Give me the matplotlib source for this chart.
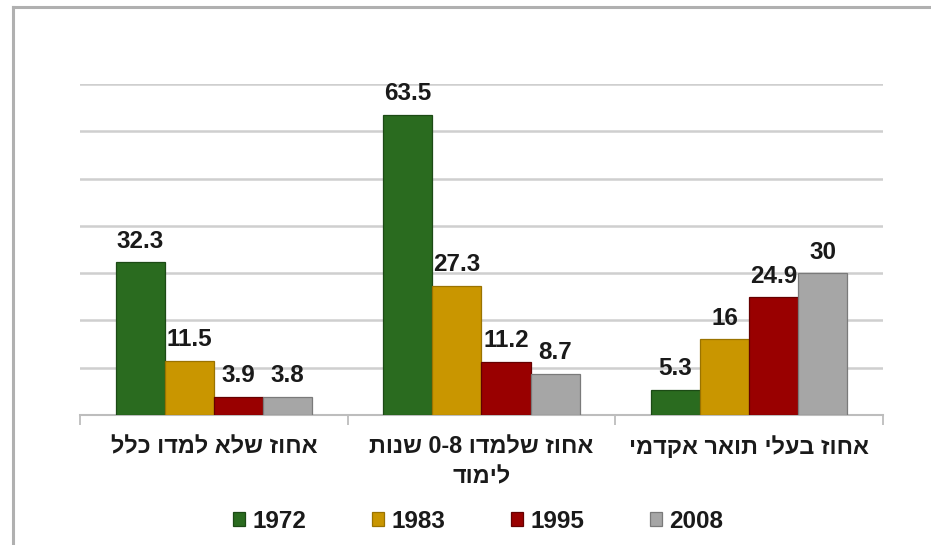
import matplotlib
matplotlib.use("Agg")
import matplotlib.pyplot as plt
from matplotlib.lines import Line2D
import numpy as np

plt.rcParams['font.family'] = ['Liberation Sans', 'DejaVu Sans']

# Hebrew category labels (logical order)
categories = ["אחוז שלא למדו כלל", "אחוז שלמדו 0-8 שנות\nלימוד", "אחוז בעלי תואר אקדמי"]
series_names = ["1972", "1983", "1995", "2008"]
v1972 = [32.3, 63.5, 5.3]
v1983 = [11.5, 27.3, 16]
v1995 = [3.9, 11.2, 24.9]
v2008 = [3.8, 8.7, 30]
values = [v1972, v1983, v1995, v2008]
colors = ["#2a6b1f", "#c99600", "#990000", "#a6a6a6"]
edges = ["#1c4a15", "#9a7300", "#650000", "#7a7a7a"]


def visual_rtl(s):
    """Convert a logical-order Hebrew line to visual order (digits kept LTR)."""
    out_lines = []
    for line in s.split("\n"):
        words = line.split(" ")
        vis = []
        for w in reversed(words):
            if any(ch.isdigit() for ch in w):
                vis.append(w)
            else:
                vis.append(w[::-1])
        out_lines.append(" ".join(vis))
    return "\n".join(out_lines)


FS = 17.5
fig = plt.figure(figsize=(9.31, 5.45), dpi=100)
ax = fig.add_axes([80 / 931, 1 - 415 / 545, (883 - 80) / 931, (415 - 84) / 545])

x = np.arange(len(categories))
bw = 0.1835
for i, (vals, c, ec, name) in enumerate(zip(values, colors, edges, series_names)):
    pos = x + (i - 1.5) * bw
    ax.bar(pos, vals, bw, color=c, edgecolor=ec, linewidth=0.9, label=name, zorder=3)
    for p, v in zip(pos, vals):
        ax.annotate(f"{v:g}", (p, v), xytext=(0, 10.5), textcoords="offset points",
                    ha="center", va="baseline", fontsize=FS, color="#1a1a1a",
                    fontweight="bold")

ax.set_xlim(-0.5, 2.5)
ax.set_ylim(0, 70)
ax.set_yticks(np.arange(10, 71, 10))
ax.yaxis.grid(True, color="#cfcfcf", linewidth=1.8, zorder=0)
ax.tick_params(axis="y", length=0, labelleft=False)
for s in ["left", "right", "top"]:
    ax.spines[s].set_visible(False)
ax.spines["bottom"].set_color("#bdbdbd")
ax.spines["bottom"].set_linewidth(1.5)

ax.set_xticks(x)
ax.set_xticklabels([visual_rtl(c) for c in categories], fontsize=16.8,
                   fontweight="bold", color="#1a1a1a", linespacing=1.35)
ax.tick_params(axis="x", which="major", length=0, pad=15)
ax.set_xticks([-0.5, 0.5, 1.5, 2.5], minor=True)
ax.tick_params(axis="x", which="minor", length=7, width=1.3, color="#bdbdbd", direction="out")

leg = fig.legend(loc="center", bbox_to_anchor=(478 / 931, 1 - 521 / 545), ncol=4,
                 frameon=False, fontsize=FS, handlelength=0.5, handleheight=0.5,
                 handletextpad=0.3, columnspacing=2.7)
for t in leg.get_texts():
    t.set_fontweight("bold")
    t.set_color("#1a1a1a")

# outer frame (left and top edges visible)
fig.add_artist(Line2D([13 / 931, 13 / 931], [0, 1 - 7 / 545], transform=fig.transFigure,
                      color="#b0b0b0", linewidth=2.2))
fig.add_artist(Line2D([13 / 931, 1], [1 - 7 / 545, 1 - 7 / 545], transform=fig.transFigure,
                      color="#b0b0b0", linewidth=2.2))

fig.savefig("out.png", dpi=100)
